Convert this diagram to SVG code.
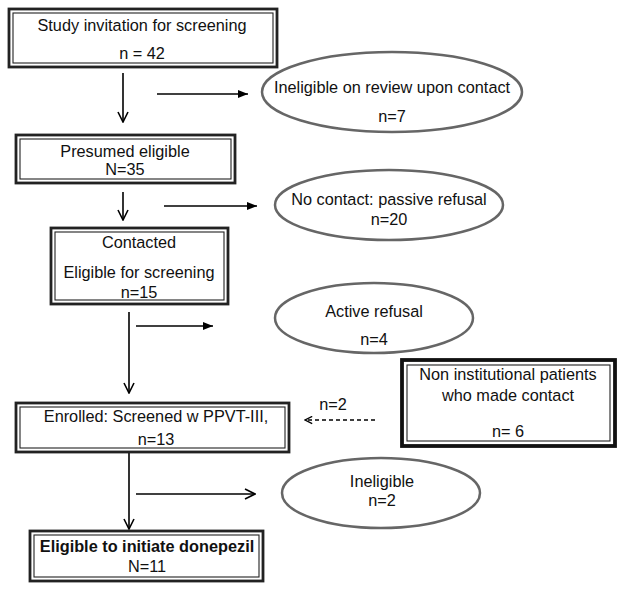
<svg xmlns="http://www.w3.org/2000/svg" width="624" height="590" viewBox="0 0 624 590">
<defs>
<marker id="tri" viewBox="0 0 10 10" refX="10" refY="5" markerWidth="10" markerHeight="10" markerUnits="userSpaceOnUse" orient="auto">
<path d="M0,1 L10,5 L0,9 Z" fill="#000"/>
</marker>
<marker id="vee" viewBox="0 0 12 12" refX="11" refY="6" markerWidth="12" markerHeight="12" markerUnits="userSpaceOnUse" orient="auto">
<path d="M1,1 L11,6 L1,11" fill="none" stroke="#000" stroke-width="1.6"/>
</marker>
<marker id="vs" viewBox="0 0 10 10" refX="9" refY="5" markerWidth="9" markerHeight="9" markerUnits="userSpaceOnUse" orient="auto">
<path d="M1,1 L9,5 L1,9" fill="none" stroke="#000" stroke-width="1.5"/>
</marker>
</defs>
<style>
text{font-family:"Liberation Sans",Arial,sans-serif;font-size:16.3px;fill:#111;text-anchor:middle}
.b{font-weight:bold}
.o{fill:#fff;stroke:#222;stroke-width:2.8}
.i{fill:none;stroke:#222;stroke-width:1.1}
.ob{fill:#fff;stroke:#111;stroke-width:3.8}
.e{fill:#fff;stroke:#666;stroke-width:2.5}
.c{stroke:#000;stroke-width:1.6;fill:none}
</style>
<rect width="624" height="590" fill="#fff"/>
<g id="connectors">
<line class="c" x1="123" y1="73" x2="123" y2="122" marker-end="url(#vee)"/>
<line class="c" x1="157" y1="94" x2="248" y2="94" marker-end="url(#tri)"/>
<line class="c" x1="123" y1="192" x2="123" y2="220" marker-end="url(#vee)"/>
<line class="c" x1="164" y1="206" x2="257" y2="206" marker-end="url(#tri)"/>
<line class="c" x1="129" y1="312" x2="129" y2="393" marker-end="url(#vee)"/>
<line class="c" x1="136" y1="326" x2="213" y2="326" marker-end="url(#tri)"/>
<line class="c" x1="129" y1="453" x2="129" y2="529" marker-end="url(#vee)"/>
<line class="c" x1="136" y1="494" x2="255" y2="494" marker-end="url(#vee)"/>
<line x1="375" y1="420" x2="305" y2="420" stroke="#000" stroke-width="1.3" stroke-dasharray="4,3" marker-end="url(#vs)"/>
<text x="333" y="410">n=2</text>
</g>
<g id="study">
<rect class="o" x="9" y="9" width="268" height="58"/>
<rect class="i" x="13" y="13" width="260" height="50"/>
<text x="142" y="31">Study invitation for screening</text>
<text x="142" y="59">n = 42</text>
</g>
<g id="ineligible-review">
<ellipse class="e" cx="392" cy="92" rx="130" ry="40"/>
<text x="392" y="93">Ineligible on review upon contact</text>
<text x="392" y="122">n=7</text>
</g>
<g id="presumed">
<rect class="o" x="16" y="135" width="219" height="48"/>
<rect class="i" x="20" y="139" width="211" height="40"/>
<text x="125" y="157">Presumed eligible</text>
<text x="125" y="175">N=35</text>
</g>
<g id="no-contact">
<ellipse class="e" cx="389" cy="205" rx="114" ry="35"/>
<text x="389" y="205">No contact: passive refusal</text>
<text x="389" y="225">n=20</text>
</g>
<g id="contacted">
<rect class="o" x="51" y="228" width="177" height="76"/>
<rect class="i" x="55" y="232" width="169" height="68"/>
<text x="139" y="248">Contacted</text>
<text x="139" y="278">Eligible for screening</text>
<text x="139" y="298">n=15</text>
</g>
<g id="active-refusal">
<ellipse class="e" cx="374" cy="318" rx="99" ry="35"/>
<text x="374" y="317">Active refusal</text>
<text x="374" y="345">n=4</text>
</g>
<g id="enrolled">
<rect class="o" x="16" y="403" width="273" height="49"/>
<rect class="i" x="20" y="407" width="265" height="41"/>
<text x="156" y="422">Enrolled: Screened w PPVT-III,</text>
<text x="156" y="445">n=13</text>
</g>
<g id="non-institutional">
<rect class="ob" x="402" y="360" width="213" height="86"/>
<rect class="i" x="407" y="365" width="203" height="76" stroke-width="1.5"/>
<text x="508" y="380">Non institutional patients</text>
<text x="508" y="401">who made contact</text>
<text x="508" y="437">n= 6</text>
</g>
<g id="ineligible">
<ellipse class="e" cx="381" cy="493" rx="99" ry="35"/>
<text x="382" y="487">Ineligible</text>
<text x="382" y="506">n=2</text>
</g>
<g id="eligible-donepezil">
<rect class="o" x="30" y="531" width="233" height="50"/>
<rect class="i" x="34" y="535" width="225" height="42"/>
<text class="b" x="147" y="552">Eligible to initiate donepezil</text>
<text x="147" y="572">N=11</text>
</g>
</svg>
